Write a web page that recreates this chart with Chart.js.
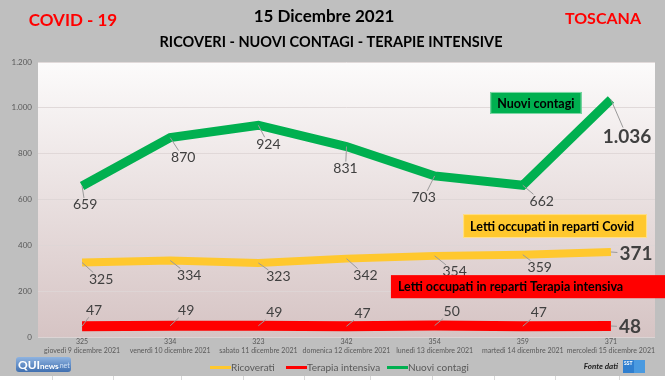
<!DOCTYPE html>
<html><head><meta charset="utf-8">
<script src="https://cdn.jsdelivr.net/npm/chart.js@4/dist/chart.umd.min.js"></script>
<style>html,body{margin:0;padding:0;background:#bfbfbf;}canvas{display:block;}</style>
</head><body>
<canvas id="c" width="665" height="380"></canvas>
<script>
// ---- data ----
const dates = ["giovedì 9 dicembre 2021","venerdì 10 dicembre 2021","sabato 11 dicembre 2021","domenica 12 dicembre 2021","lunedì 13 dicembre 2021","martedì 14 dicembre 2021","mercoledì 15 dicembre 2021"];
const ricoverati = [325, 334, 323, 342, 354, 359, 371];
const terapiaIntensiva = [47, 49, 49, 47, 50, 47, 48];
const nuoviContagi = [659, 870, 924, 831, 703, 662, 1036];
const seriesNames = ["Ricoverati", "Terapia intensiva", "Nuovi contagi"];
const yTicks = [0, 200, 400, 600, 800, 1000, 1200];

// ---- styles ----
const colors = ["#FFC82E", "#FF0000", "#00B050"];
const widths = [8, 10, 9];
// label offsets (px) relative to each point, per dataset
const labelOffsets = [
  [[19,17],[19,15],[20,14],[19,17],[20,16],[17,13],[25,2]],
  [[12,-16],[16,-15],[16,-13],[16,-13],[17,-14],[16,-14],[19,1]],
  [[3,19],[13,20],[10,19],[-1,22],[-11,22],[19,16],[16,37]]
];
const FONT = "Lato, 'Open Sans', sans-serif";
const fmt = v => String(v).replace(/\B(?=(\d{3})+(?!\d))/g, '.');

const bgPlugin = {
  id: 'bg',
  beforeDraw(chart) {
    const {ctx, chartArea: a} = chart;
    ctx.save();
    ctx.fillStyle = '#bfbfbf';
    ctx.fillRect(0, 0, chart.width, chart.height);
    const g = ctx.createLinearGradient(0, a.top, 0, a.bottom);
    g.addColorStop(0, '#fcfbfb');
    g.addColorStop(1, '#d6c4c4');
    ctx.fillStyle = g;
    ctx.fillRect(a.left, a.top, a.right - a.left, a.bottom - a.top);
    // bottom white strip
    ctx.fillStyle = '#ffffff';
    ctx.fillRect(0, 376, chart.width, chart.height - 376);
    ctx.strokeStyle = '#dadada';
    ctx.lineWidth = 1;
    [52,113,181,243,304,370,432,494,555,619].forEach(x => {
      ctx.beginPath(); ctx.moveTo(x + 0.5, 376); ctx.lineTo(x + 0.5, chart.height); ctx.stroke();
    });
    ctx.restore();
  }
};

function box(ctx, x, y, w, h, fill, border, text, font) {
  ctx.fillStyle = fill;
  ctx.fillRect(x, y, w, h);
  if (border) { ctx.strokeStyle = border; ctx.lineWidth = 1; ctx.strokeRect(x + 0.5, y + 0.5, w - 1, h - 1); }
  ctx.fillStyle = '#000';
  ctx.font = font;
  ctx.textAlign = 'left';
  ctx.textBaseline = 'middle';
  ctx.fillText(text, x + 7, y + h / 2 + 0.5);
}

const decoPlugin = {
  id: 'deco',
  afterDatasetsDraw(chart) {
    const {ctx, chartArea: a} = chart;
    ctx.save();
    // value labels with leader lines
    chart.data.datasets.forEach((ds, di) => {
      const meta = chart.getDatasetMeta(di);
      meta.data.forEach((pt, i) => {
        const last = i === ds.data.length - 1;
        const [ox, oy] = labelOffsets[di][i];
        const lx = pt.x + ox, ly = pt.y + oy;
        const txt = fmt(ds.data[i]);
        ctx.font = (last ? 'bold 19px ' : '14px ') + FONT;
        const w = ctx.measureText(txt).width;
        const hw = w / 2 + 2, hh = last ? 9 : 7;
        const dx = lx - pt.x, dy = ly - pt.y;
        let s = Math.min(dx ? hw / Math.abs(dx) : 99, dy ? hh / Math.abs(dy) : 99);
        if (s < 1) {
          ctx.strokeStyle = '#9a9a9a';
          ctx.lineWidth = 1;
          ctx.beginPath();
          ctx.moveTo(pt.x, pt.y);
          ctx.lineTo(lx - dx * s, ly - dy * s);
          ctx.stroke();
        }
        ctx.fillStyle = '#404040';
        ctx.textAlign = 'center';
        ctx.textBaseline = 'middle';
        ctx.fillText(txt, lx, ly);
      });
    });
    // annotation boxes (relative to plot area)
    const W = a.right - a.left, H = a.bottom - a.top;
    const bx = (fx, fy, fw, fh) => [a.left + fx * W, a.top + fy * H, fw * W, fh * H];
    const bf = 'bold 12.5px ' + FONT;
    box(ctx, ...bx(0.733, 0.109, 0.148, 0.080), '#00B050', '#7fd8a6', 'Nuovi contagi', bf);
    box(ctx, ...bx(0.689, 0.553, 0.298, 0.087), '#FFC82E', '#ffe08a', 'Letti occupati in reparti Covid', bf);
    box(ctx, ...bx(0.572, 0.775, 0.477, 0.084), '#FF0000', null, 'Letti occupati in reparti Terapia intensiva', bf);
    ctx.restore();
  },
  afterDraw(chart) {
    const {ctx} = chart;
    ctx.save();
    ctx.textBaseline = 'middle';
    ctx.textAlign = 'center';
    ctx.fillStyle = '#FF0000';
    ctx.font = 'bold 17px ' + FONT;
    ctx.fillText('COVID - 19', 73, 21);
    ctx.font = 'bold 16px ' + FONT;
    ctx.fillText('TOSCANA', 603, 19);
    ctx.fillStyle = '#000';
    ctx.font = 'bold 17px ' + FONT;
    ctx.fillText('15 Dicembre 2021', 324, 17);
    ctx.font = 'bold 14.5px ' + FONT;
    ctx.fillText('RICOVERI - NUOVI CONTAGI - TERAPIE INTENSIVE', 331, 42);

    // legend
    ctx.font = '10px ' + FONT;
    ctx.textAlign = 'left';
    const lx = [210, 286, 387];
    chart.data.datasets.forEach((ds, i) => {
      ctx.fillStyle = ds.borderColor;
      ctx.fillRect(lx[i], 366, 21, 3);
      ctx.fillStyle = '#595959';
      ctx.fillText(ds.label, lx[i] + 21, 367.5);
    });

    // QUInews logo
    const g = ctx.createLinearGradient(0, 357, 0, 372);
    g.addColorStop(0, '#8fb3e0'); g.addColorStop(1, '#3f6fb0');
    ctx.fillStyle = g;
    ctx.beginPath();
    if (ctx.roundRect) ctx.roundRect(16, 357, 55, 15, 3); else ctx.rect(16, 357, 55, 15);
    ctx.fill();
    ctx.fillStyle = '#fff';
    ctx.font = 'bold 12px ' + FONT;
    ctx.fillText('QUI', 18, 365);
    ctx.font = 'bold 8px ' + FONT;
    ctx.fillText('news', 40, 366);
    ctx.fillStyle = '#cfe0f5';
    ctx.font = '7px ' + FONT;
    ctx.fillText('.net', 58, 366);

    // Fonte dati
    ctx.fillStyle = '#222';
    ctx.font = 'italic bold 8px ' + FONT;
    ctx.textAlign = 'right';
    ctx.fillText('Fonte dati', 618, 366);
    ctx.fillStyle = '#2f7fd0';
    ctx.fillRect(623, 360, 22, 13);
    ctx.fillStyle = '#4a9ae0';
    ctx.fillRect(634, 360, 11, 13);
    ctx.fillStyle = '#fff';
    ctx.font = 'bold 5px ' + FONT;
    ctx.textAlign = 'left';
    ctx.fillText('SST', 624, 363);
    ctx.restore();
  }
};

new Chart(document.getElementById('c'), {
  type: 'line',
  data: {
    labels: dates.map((d, i) => [String(ricoverati[i]), d]),
    datasets: [
      { label: seriesNames[0], data: ricoverati },
      { label: seriesNames[1], data: terapiaIntensiva },
      { label: seriesNames[2], data: nuoviContagi }
    ].map((d, i) => Object.assign(d, {
      borderColor: colors[i], backgroundColor: colors[i], borderWidth: widths[i],
      pointRadius: 0, pointHoverRadius: 0, tension: 0, fill: false,
      borderCapStyle: 'butt', borderJoinStyle: 'miter'
    }))
  },
  options: {
    responsive: false,
    devicePixelRatio: 1,
    animation: false,
    layout: { padding: { top: 62, right: 10, left: 0, bottom: 23 } },
    plugins: { legend: { display: false }, tooltip: { enabled: false }, title: { display: false } },
    scales: {
      x: {
        offset: true,
        grid: { display: false, drawTicks: false },
        border: { display: false },
        ticks: { autoSkip: false, maxRotation: 0, padding: 1, color: '#595959', font: { size: 7, family: FONT, lineHeight: 1.2 } },
        afterFit: s => { s.height = 20; }
      },
      y: {
        min: 0, max: 1200,
        afterBuildTicks: s => { s.ticks = yTicks.map(v => ({ value: v })); },
        grid: { color: 'rgba(222,214,214,0.9)', drawTicks: false, lineWidth: 1 },
        border: { display: false },
        ticks: { padding: 6, color: '#595959', font: { size: 8, family: FONT }, callback: v => fmt(v) },
        afterFit: s => { s.width = 38; }
      }
    }
  },
  plugins: [bgPlugin, decoPlugin]
});
</script>
</body></html>
